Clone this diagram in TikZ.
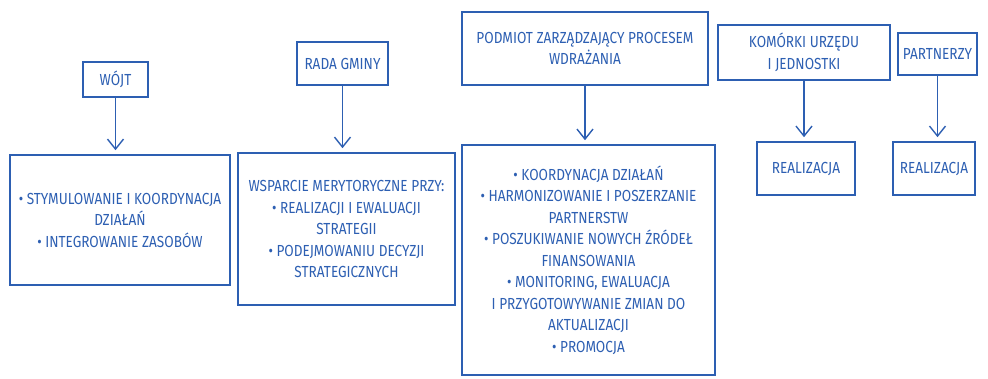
\documentclass[tikz,border=0pt]{standalone}
\usepackage{fontspec}
\setmainfont{Fira Sans}[FakeStretch=0.85]
\usepackage{tikz}
\usetikzlibrary{positioning}
\usetikzlibrary{arrows.meta}
\definecolor{pen}{RGB}{45,95,178}

\begin{document}
\begin{tikzpicture}[
x=1pt, y=-1pt,
myblock/.style={draw=pen, line width=1.6pt, text=pen, align=center, inner sep=2pt,
  font=\fontsize{16}{21.5}\selectfont},
edge/.style={draw=pen, line width=1.4pt, -{Straight Barb[length=10pt,width=16pt,line width=1.4pt]}, shorten >=4pt}
]
\useasboundingbox (0,0) rectangle (988,379);

%Nodes
\node[myblock, minimum width=65pt, minimum height=35pt]  (wojt)      at (115.5,79.5) {WÓJT};
\node[myblock, minimum width=220pt, minimum height=130pt] (wojtzad)  at (120,220)
  {• STYMULOWANIE I KOORDYNACJA\\ DZIAŁAŃ\\ • INTEGROWANIE ZASOBÓW};

\node[myblock, minimum width=91pt, minimum height=43pt]  (rada)      at (342.5,63.5) {RADA GMINY};
\node[myblock, minimum width=217pt, minimum height=152pt] (radazad)  at (346.5,229)
  {WSPARCIE MERYTORYCZNE PRZY:\\ • REALIZACJI I EWALUACJI\\ STRATEGII\\ • PODEJMOWANIU DECYZJI\\ STRATEGICZNYCH};

\node[myblock, minimum width=246pt, minimum height=73pt] (podmiot)   at (585,48.5)
  {PODMIOT ZARZĄDZAJĄCY PROCESEM\\ WDRAŻANIA};
\node[myblock, minimum width=253pt, minimum height=230pt] (podmiotzad) at (588.5,260)
  {• KOORDYNACJA DZIAŁAŃ\\ • HARMONIZOWANIE I POSZERZANIE\\ PARTNERSTW\\ • POSZUKIWANIE NOWYCH ŹRÓDEŁ\\ FINANSOWANIA\\ • MONITORING, EWALUACJA\\ I PRZYGOTOWYWANIE ZMIAN DO\\ AKTUALIZACJI\\ • PROMOCJA};

\node[myblock, minimum width=172pt, minimum height=55pt] (komorki)   at (804,52.5)
  {KOMÓRKI URZĘDU\\ I JEDNOSTKI};
\node[myblock, minimum width=98pt, minimum height=53pt]  (real1)     at (806,168.5) {REALIZACJA};

\node[myblock, minimum width=79pt, minimum height=42pt]  (partnerzy) at (937.5,54) {PARTNERZY};
\node[myblock, minimum width=82pt, minimum height=53pt]  (real2)     at (934,168.5) {REALIZACJA};

%Lines
\draw[edge] (wojt.south) -- (wojt.south |- wojtzad.north);
\draw[edge] (rada.south) -- (rada.south |- radazad.north);
\draw[edge] (podmiot.south) -- (podmiot.south |- podmiotzad.north);
\draw[edge] (komorki.south) -- (komorki.south |- real1.north);
\draw[edge] (partnerzy.south) -- (partnerzy.south |- real2.north);

\end{tikzpicture}
\end{document}
